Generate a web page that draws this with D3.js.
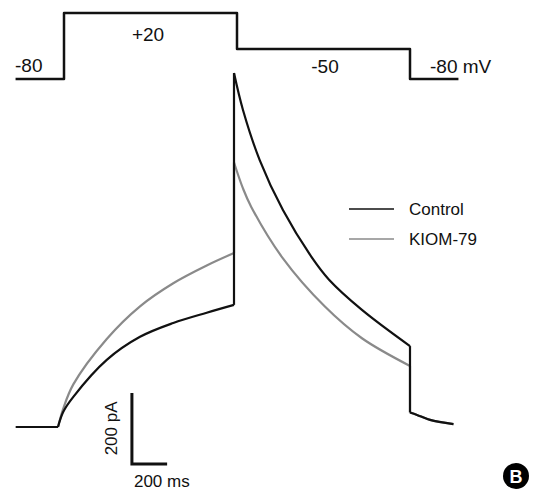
<!DOCTYPE html>
<html>
<head>
<meta charset="utf-8">
<script src="https://cdn.jsdelivr.net/npm/d3@7"></script>
<style>
  body { margin: 0; background: #fff; }
  svg text { font-family: "Liberation Sans", Arial, sans-serif; fill: #111; }
</style>
</head>
<body>
<div id="chart"></div>
<script>
// voltage protocol: [time ms, mV]
var protocol = [[-280, -80], [0, 20], [1000, -50], [2000, -80], [2280, -80]];
var protocolLabels = ["-80", "+20", "-50", "-80 mV"];

// current traces: [time ms, pA]
var baselinePre = [[-240, 0], [0, 0]];
var controlAct = [[0, 0], [30, 43], [87, 85], [277, 189], [466, 254], [655, 293], [845, 322], [1000, 344]];
var kiomAct = [[0, 0], [30, 52], [87, 120], [277, 248], [466, 340], [655, 405], [845, 455], [1000, 490]];
var controlTail = [[1000, 997], [1051, 893], [1146, 752], [1278, 611], [1439, 480], [1540, 415], [1727, 330], [2000, 228]];
var kiomTail = [[1000, 745], [1051, 672], [1098, 620], [1278, 475], [1515, 340], [1727, 250], [2000, 172]];
var deactTail = [[2000, 41], [2040, 34], [2114, 20], [2247, 8]];

var seriesNames = ["Control", "KIOM-79"];
var seriesColors = ["#111", "#8a8a8a"];

var width = 538, height = 492;

var svg = d3.select("#chart")
    .append("svg")
    .attr("width", width)
    .attr("height", height);

// voltage scales (schematic, so y is piecewise)
var vx = d3.scaleLinear().domain([0, 2000]).range([64, 410]);
var vy = d3.scaleLinear().domain([-80, -50, 20]).range([79, 49, 13]);

// current scales
var cx = d3.scaleLinear().domain([0, 2000]).range([58, 410]);
var cy = d3.scaleLinear().domain([0, 1000]).range([427, 72]);

var vLine = d3.line()
    .x(function(d) { return vx(d[0]); })
    .y(function(d) { return vy(d[1]); })
    .curve(d3.curveStepAfter);

svg.append("path")
    .attr("d", vLine(protocol))
    .attr("fill", "none")
    .attr("stroke", "#111")
    .attr("stroke-width", 2.5)
    .attr("stroke-linejoin", "round");

svg.append("text").attr("x", 15).attr("y", 72).attr("font-size", 19).text(protocolLabels[0]);
svg.append("text").attr("x", 148).attr("y", 41).attr("font-size", 19)
    .attr("text-anchor", "middle").text(protocolLabels[1]);
svg.append("text").attr("x", 325).attr("y", 73).attr("font-size", 19)
    .attr("text-anchor", "middle").text(protocolLabels[2]);
svg.append("text").attr("x", 430).attr("y", 73).attr("font-size", 19).text(protocolLabels[3]);

var smooth = d3.line()
    .x(function(d) { return cx(d[0]); })
    .y(function(d) { return cy(d[1]); })
    .curve(d3.curveCatmullRom.alpha(0.5));

var straight = d3.line()
    .x(function(d) { return cx(d[0]); })
    .y(function(d) { return cy(d[1]); });

function drawTrace(act, tail, color) {
    var g = svg.append("g")
        .attr("fill", "none")
        .attr("stroke", color)
        .attr("stroke-width", 2.2)
        .attr("stroke-linejoin", "round");
    g.append("path").attr("d", straight(baselinePre));
    g.append("path").attr("d", smooth(act));
    g.append("path").attr("d", straight([act[act.length - 1], tail[0]]));
    g.append("path").attr("d", smooth(tail));
    g.append("path").attr("d", straight([tail[tail.length - 1], deactTail[0]]));
    g.append("path").attr("d", smooth(deactTail));
}

drawTrace(kiomAct, kiomTail, seriesColors[1]);
drawTrace(controlAct, controlTail, seriesColors[0]);

// legend
var legend = svg.append("g").attr("transform", "translate(349,209)");
seriesNames.forEach(function(name, i) {
    legend.append("line")
        .attr("x1", 0).attr("x2", 45)
        .attr("y1", i * 30).attr("y2", i * 30)
        .attr("stroke", seriesColors[i])
        .attr("stroke-width", 1.6);
    legend.append("text")
        .attr("x", 60).attr("y", i * 30 + 6)
        .attr("font-size", 17)
        .text(name);
});

// scale bars: 200 ms, 200 pA
var barT = 420, barI = -104;
svg.append("path")
    .attr("d", straight([[barT, barI + 200], [barT, barI], [barT + 200, barI]]))
    .attr("fill", "none")
    .attr("stroke", "#111")
    .attr("stroke-width", 3);

svg.append("text")
    .attr("transform", "translate(" + (cx(barT) - 15) + "," + cy(barI + 100) + ") rotate(-90)")
    .attr("text-anchor", "middle")
    .attr("font-size", 17)
    .text("200 pA");

svg.append("text")
    .attr("x", cx(barT + 170))
    .attr("y", 487)
    .attr("text-anchor", "middle")
    .attr("font-size", 17)
    .text("200 ms");

// panel label
svg.append("circle").attr("cx", 516).attr("cy", 476).attr("r", 13).attr("fill", "#000");
svg.append("text")
    .attr("x", 516).attr("y", 482.5)
    .attr("text-anchor", "middle")
    .attr("font-size", 18)
    .attr("font-weight", "bold")
    .style("fill", "#fff")
    .text("B");
</script>
</body>
</html>
